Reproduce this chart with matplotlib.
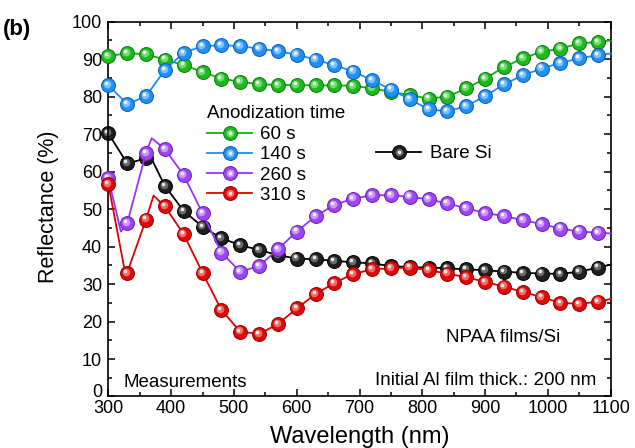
import matplotlib
matplotlib.use("Agg")
import matplotlib.pyplot as plt
from matplotlib.lines import Line2D
from matplotlib.legend_handler import HandlerTuple
from matplotlib.transforms import offset_copy
from matplotlib.ticker import MultipleLocator, FuncFormatter

plt.rcParams['font.family'] = ['Liberation Sans', 'DejaVu Sans']

# ---- data ----
wavelength = [300, 330, 360, 390, 420, 450, 480, 510, 540, 570, 600, 630, 660, 690,
              720, 750, 780, 810, 840, 870, 900, 930, 960, 990, 1020, 1050, 1080]

r_60s = [90.8, 91.6, 91.3, 89.9, 88.4, 86.6, 84.8, 84.0, 83.3, 83.1, 83.1, 83.0, 83.0, 82.9,
         82.2, 81.3, 80.4, 79.5, 80.0, 82.2, 84.8, 87.9, 90.2, 92.0, 92.8, 94.2, 94.6]
r_140s = [83.1, 78.0, 80.1, 87.1, 91.7, 93.5, 93.7, 93.5, 92.8, 92.1, 91.2, 89.9, 88.4, 86.7,
          84.4, 81.9, 79.3, 76.6, 76.1, 77.5, 80.1, 83.3, 85.7, 87.5, 89.0, 90.2, 91.1]
r_260s = [58.2, 46.2, 65.0, 66.0, 59.1, 48.9, 38.4, 33.3, 34.8, 39.3, 44.0, 48.1, 51.1, 52.8,
          53.7, 53.7, 53.3, 52.6, 51.5, 50.2, 49.0, 48.1, 47.1, 46.0, 44.8, 44.0, 43.7]
r_310s = [56.7, 33.0, 47.2, 50.7, 43.3, 33.0, 23.1, 17.3, 16.7, 19.3, 23.5, 27.3, 30.3, 32.7,
          33.9, 34.2, 34.4, 33.7, 32.8, 31.8, 30.6, 29.3, 27.9, 26.5, 25.0, 24.7, 25.3]
r_bare = [70.2, 62.2, 63.5, 56.2, 49.5, 45.3, 42.2, 40.4, 39.1, 37.7, 36.8, 36.6, 36.2, 35.8,
          35.5, 34.8, 34.5, 34.4, 34.2, 33.9, 33.7, 33.3, 33.0, 32.8, 32.7, 33.3, 34.4]

# extra spectrum points visible on the lines between markers (wavelength, value)
extra_60s = [(1100, 95.0)]
extra_140s = [(1100, 91.5)]
extra_260s = [(320, 44.0), (369, 68.9), (1100, 43.5)]
extra_310s = [(327, 32.8), (372, 53.6), (1100, 26.0)]
extra_bare = [(366, 64.4), (1100, 35.2)]

labels = ['60 s', '140 s', '260 s', '310 s']
bare_label = 'Bare Si'
legend_title = 'Anodization time'

# styling: (line colour, dark edge, body, light, highlight)
styles = {
    '60 s':  ('#10b010', '#0a7a0a', '#1fb81f', '#6fdc6f', '#f0fff0'),
    '140 s': ('#1a8cff', '#0a5cb8', '#2390f0', '#7cc0ff', '#f0f8ff'),
    '260 s': ('#9933ff', '#6a1fb8', '#9d45f0', '#c89aff', '#fbf4ff'),
    '310 s': ('#e00000', '#9a0000', '#dc0a0a', '#f26a6a', '#fff0f0'),
    'Bare Si': ('#000000', '#000000', '#1e1e1e', '#6a6a6a', '#e8e8e8'),
}

fig = plt.figure(figsize=(6.35, 4.48), dpi=100)
ax = fig.add_axes([0.1706, 0.115, 0.7911, 0.8366])

tr_light = offset_copy(ax.transData, fig=fig, x=-0.9, y=0.9, units='points')
tr_hi = offset_copy(ax.transData, fig=fig, x=-1.4, y=1.5, units='points')


def draw(vals, extra, key, z):
    lc, dk, body, light, hi = styles[key]
    pts = sorted(list(zip(wavelength, vals)) + list(extra))
    lx = [p[0] for p in pts]
    ly = [p[1] for p in pts]
    ax.plot(lx, ly, color=lc, lw=1.3, zorder=z, clip_on=False)
    ax.plot(wavelength, vals, ls='none', marker='o', ms=10, mfc=body, mec=dk, mew=0.7,
            zorder=z + 0.1, clip_on=False)
    ax.plot(wavelength, vals, ls='none', marker='o', ms=5.5, mfc=light, mec='none',
            transform=tr_light, zorder=z + 0.2, clip_on=False)
    ax.plot(wavelength, vals, ls='none', marker='o', ms=2.6, mfc=hi, mec='none',
            transform=tr_hi, zorder=z + 0.3, clip_on=False)


draw(r_bare, extra_bare, 'Bare Si', 2)
draw(r_60s, extra_60s, '60 s', 3)
draw(r_140s, extra_140s, '140 s', 4)
draw(r_260s, extra_260s, '260 s', 5)
draw(r_310s, extra_310s, '310 s', 6)


def handle(key):
    lc, dk, body, light, hi = styles[key]
    return (Line2D([], [], color=lc, lw=1.3),
            Line2D([], [], ls='none', marker='o', ms=10, mfc=body, mec=dk, mew=0.7),
            Line2D([], [], ls='none', marker='o', ms=5.5, mfc=light, mec='none'),
            Line2D([], [], ls='none', marker='o', ms=2.6, mfc=hi, mec='none'))


leg_kw = dict(frameon=False, fontsize=13.5, handlelength=2.4, handletextpad=0.45,
              labelspacing=0.16, borderpad=0, borderaxespad=0,
              handler_map={tuple: HandlerTuple(ndivide=1, pad=0)})

ax.text(0.1965, 0.743, legend_title, transform=ax.transAxes, fontsize=13.5,
        ha='left', va='baseline')
leg1 = ax.legend([handle(k) for k in labels], labels, loc='upper left',
                 bbox_to_anchor=(0.1965, 0.7212), **leg_kw)
ax.add_artist(leg1)
leg2 = ax.legend([handle(bare_label)], [bare_label], loc='upper left',
                 bbox_to_anchor=(0.533, 0.6703), **leg_kw)

ax.set_xlim(300, 1100)
ax.set_ylim(0, 100)
ax.xaxis.set_major_locator(MultipleLocator(100))
ax.xaxis.set_minor_locator(MultipleLocator(50))
ax.yaxis.set_major_locator(MultipleLocator(10))
ax.yaxis.set_minor_locator(MultipleLocator(5))
# the "0" y label is drawn slightly lifted (as in the reference) so it clears "300"
ax.yaxis.set_major_formatter(FuncFormatter(lambda v, p: '' if abs(v) < 1e-9 else f'{v:g}'))
ax.tick_params(which='both', direction='in', top=True, right=True, width=1.1,
               labelsize=13)
ax.tick_params(which='major', length=5)
ax.tick_params(which='minor', length=3)
ax.tick_params(axis='x', pad=2.5)
ax.tick_params(axis='y', pad=4.5)
for s in ax.spines.values():
    s.set_linewidth(1.2)

ax.annotate('0', xy=(0, 0), xycoords='axes fraction', xytext=(-4.5, 4.0),
            textcoords='offset points', ha='right', va='center_baseline', fontsize=13)

ax.set_xlabel('Wavelength (nm)', fontsize=17)
ax.xaxis.set_label_coords(0.5, -0.078)
ax.set_ylabel('Reflectance (%)', fontsize=15.5)
ax.yaxis.set_label_coords(-0.099, 0.505)

ax.text(0.03, 0.026, 'Measurements', transform=ax.transAxes, fontsize=13.5,
        ha='left', va='baseline')
ax.text(0.9707, 0.031, 'Initial Al film thick.: 200 nm', transform=ax.transAxes,
        fontsize=13.5, ha='right', va='baseline')
ax.text(0.9005, 0.1454, 'NPAA films/Si', transform=ax.transAxes, fontsize=13.5,
        ha='right', va='baseline')

fig.text(3 / 635, 1 - 19 / 448, '(b)', fontsize=16, fontweight='bold',
         ha='left', va='top')

fig.savefig('out.png', dpi=100)
